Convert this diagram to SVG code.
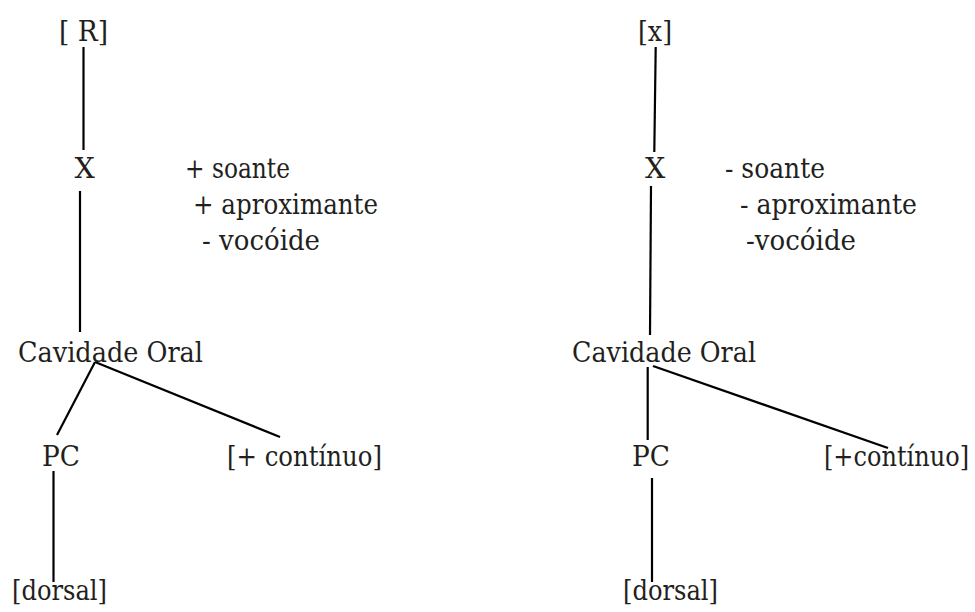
<svg xmlns="http://www.w3.org/2000/svg" width="975" height="612" viewBox="0 0 975 612">
<style>
.t{font-family:'DejaVu Serif','Liberation Serif',serif;font-size:28.5px;fill:#231f20}
line{stroke:#000;stroke-width:2.2;fill:none}
</style>
<rect width="975" height="612" fill="#fff"/>
<g id="connectors">
<line x1="83.5" y1="47" x2="83.5" y2="150"/>
<line x1="80" y1="191" x2="80" y2="332"/>
<line x1="95" y1="362" x2="57" y2="435"/>
<line x1="95" y1="362" x2="280" y2="437"/>
<line x1="53.5" y1="471" x2="53.5" y2="582"/>
<line x1="655.7" y1="47" x2="654.3" y2="152"/>
<line x1="651" y1="186" x2="650" y2="335"/>
<line x1="647.7" y1="367" x2="647.7" y2="440"/>
<line x1="653" y1="366" x2="888" y2="448"/>
<line x1="652" y1="478" x2="652" y2="582"/>
</g>
<g class="t">
<g id="left-root"><text x="59" y="41" textLength="49" lengthAdjust="spacingAndGlyphs">[ R]</text></g>
<g id="left-x"><text x="74.5" y="178">X</text></g>
<g id="left-features">
<text x="185" y="178" textLength="105" lengthAdjust="spacingAndGlyphs">+ soante</text>
<text x="193" y="214" textLength="185" lengthAdjust="spacingAndGlyphs">+ aproximante</text>
<text x="202" y="250" textLength="118" lengthAdjust="spacingAndGlyphs">- vocóide</text>
</g>
<g id="left-cavidade"><text x="18" y="362" textLength="185" lengthAdjust="spacingAndGlyphs">Cavidade Oral</text></g>
<g id="left-pc"><text x="42" y="466" textLength="38" lengthAdjust="spacingAndGlyphs">PC</text></g>
<g id="left-continuo"><text x="227" y="466" textLength="155" lengthAdjust="spacingAndGlyphs">[+ contínuo]</text></g>
<g id="left-dorsal"><text x="12" y="600" textLength="95" lengthAdjust="spacingAndGlyphs">[dorsal]</text></g>
<g id="right-root"><text x="638" y="41" textLength="34" lengthAdjust="spacingAndGlyphs">[x]</text></g>
<g id="right-x"><text x="645" y="178">X</text></g>
<g id="right-features">
<text x="725" y="178" textLength="100" lengthAdjust="spacingAndGlyphs">- soante</text>
<text x="740" y="214" textLength="177" lengthAdjust="spacingAndGlyphs">- aproximante</text>
<text x="746" y="250" textLength="110" lengthAdjust="spacingAndGlyphs">-vocóide</text>
</g>
<g id="right-cavidade"><text x="572" y="362" textLength="184" lengthAdjust="spacingAndGlyphs">Cavidade Oral</text></g>
<g id="right-pc"><text x="632" y="466" textLength="38" lengthAdjust="spacingAndGlyphs">PC</text></g>
<g id="right-continuo"><text x="824" y="466" textLength="145" lengthAdjust="spacingAndGlyphs">[+contínuo]</text></g>
<g id="right-dorsal"><text x="623" y="600" textLength="95" lengthAdjust="spacingAndGlyphs">[dorsal]</text></g>
</g>
</svg>
